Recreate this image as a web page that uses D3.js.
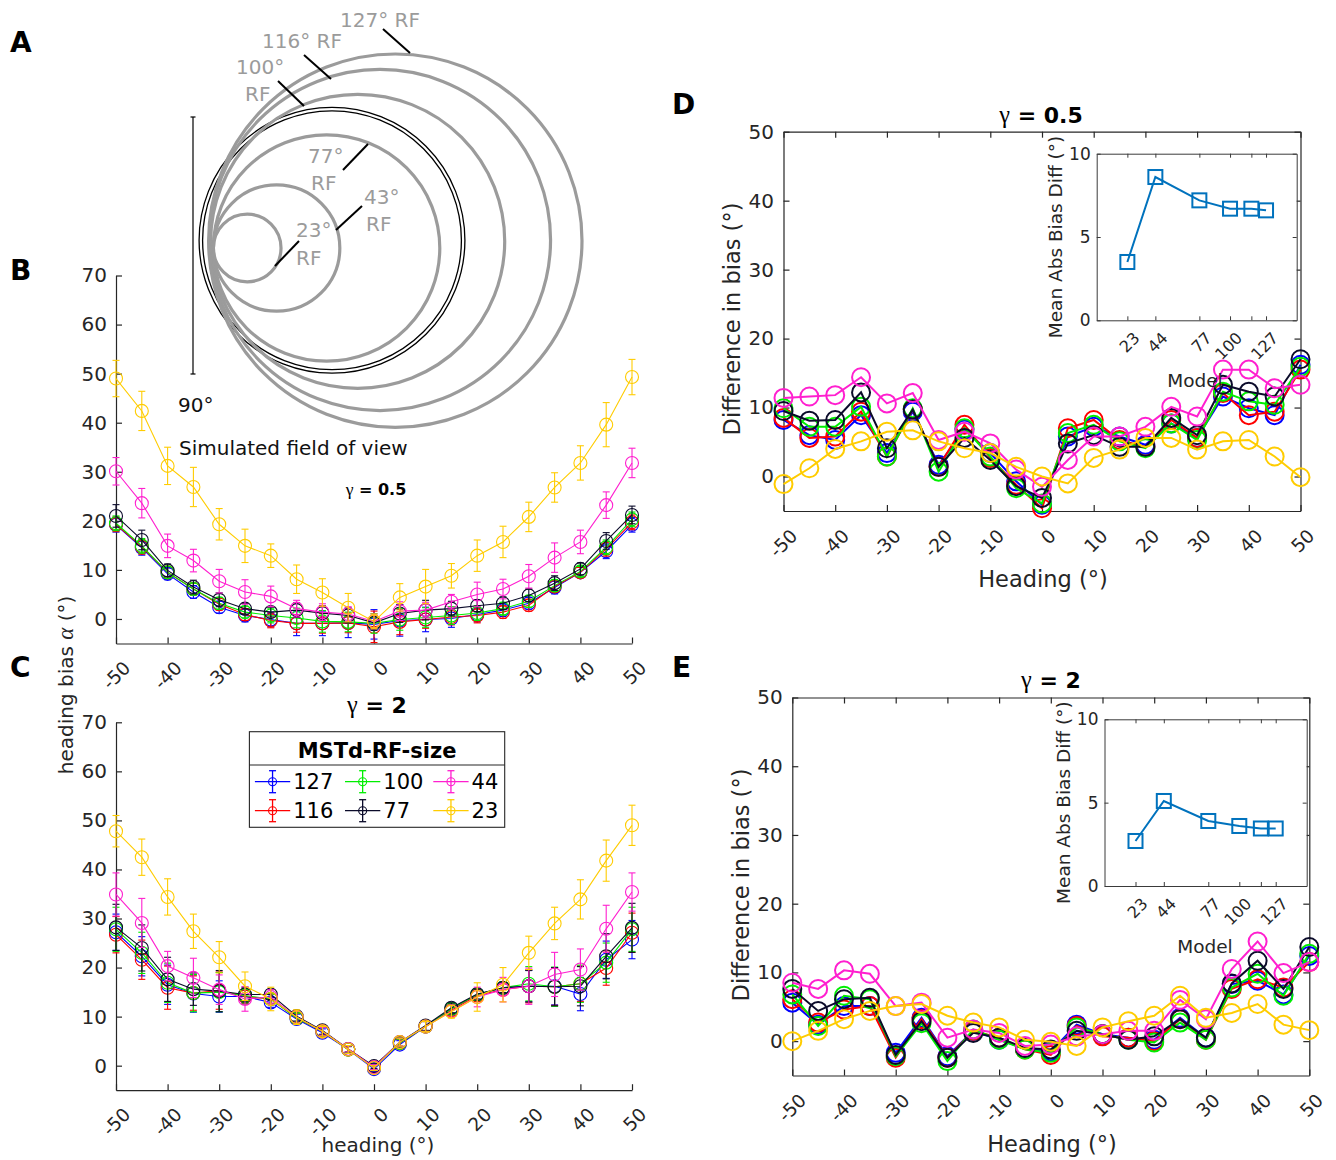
<!DOCTYPE html>
<html>
<head>
<meta charset="utf-8">
<script src="https://cdn.jsdelivr.net/npm/d3@7/dist/d3.min.js"></script>
<style>
body{margin:0;background:#fff;}
svg{display:block;}
text{font-family:"DejaVu Sans",sans-serif;}
</style>
</head>
<body>
<svg id="fig" width="1336" height="1160"></svg>
<script>
// ================= DATA =================
const headings = [-50,-45,-40,-35,-30,-25,-20,-15,-10,-5,0,5,10,15,20,25,30,35,40,45,50];
const headingTicks = [-50,-40,-30,-20,-10,0,10,20,30,40,50];
const biasTicks = [0,10,20,30,40,50,60,70];
const diffTicks = [0,10,20,30,40,50];
const modelSizes = [127,116,100,77,44,23];
const insetSizes = [23,44,77,100,116,127];
const insetXTicks = [23,44,77,100,116,127];
const insetXTickLabels = ["23","44","77","100","","127"];
const insetYTicks = [0,5,10];
const rfSizesA = [23,43,77,100,116,127];
const fovSizeA = 90;

// Panel B: heading bias, gamma = 0.5
const biasB_127 = [19.2,14.5,9.2,5.5,2.4,0.7,-0.1,-0.9,-0.9,-0.8,-1.1,-0.3,-0.1,0.1,0.9,1.8,3.2,6.4,9.5,13.8,19.2];
const biasB_116 = [19.3,14.7,9.5,6.1,3.0,0.9,-0.3,-0.9,-0.9,-0.8,-1.6,-0.6,-0.1,0.4,0.7,1.4,2.8,6.6,9.5,14.3,19.7];
const biasB_100 = [19.5,14.9,9.5,6.1,3.2,1.4,0.7,0.2,-0.5,-0.6,-0.9,-0.1,0.3,0.7,1.2,2.1,3.6,6.8,9.7,14.6,20.3];
const biasB_77  = [21.0,16.1,9.9,6.5,3.9,2.1,1.4,1.8,1.2,0.7,-0.8,1.1,1.8,2.1,2.7,3.2,4.8,7.3,10.2,15.9,21.2];
const biasB_44  = [30.1,23.6,14.9,11.9,7.7,5.5,4.6,2.1,1.4,1.0,-0.5,1.6,1.8,3.5,5.0,6.1,8.7,12.5,15.7,23.2,31.8];
const biasB_23  = [49.0,42.4,31.2,26.9,19.3,14.9,12.9,8.1,5.4,2.3,-0.5,4.4,6.6,8.8,12.9,15.7,20.8,26.8,31.8,39.6,49.3];
const errB_127 = [1.5,1.5,1.2,1.3,1.2,1.3,1.5,2.5,2.5,3.0,3.0,3.2,2.5,1.8,1.5,1.3,1.2,1.3,1.0,1.5,1.5];
const errB_116 = [1.5,1.5,1.2,1.2,1.2,1.2,1.5,1.8,2.0,2.0,3.2,2.6,1.8,1.6,1.5,1.3,1.2,1.2,1.0,1.5,1.5];
const errB_100 = [1.5,1.5,1.2,1.2,1.2,1.2,1.5,2.0,2.2,2.0,2.0,2.2,2.0,1.8,1.5,1.3,1.2,1.2,1.0,1.5,1.5];
const errB_77  = [2.3,2.0,1.3,1.4,1.4,1.1,1.0,1.5,1.5,1.5,1.5,1.8,2.0,1.5,1.2,1.3,1.3,1.5,1.2,1.7,1.8];
const errB_44  = [2.8,3.0,2.4,2.3,2.4,2.5,2.1,1.7,1.7,1.5,1.5,1.9,1.6,1.5,2.5,2.0,2.4,3.0,2.4,2.7,3.0];
const errB_23  = [3.7,4.0,3.8,4.0,3.2,3.4,2.4,2.9,2.8,2.9,1.5,2.8,3.5,2.5,3.2,3.2,3.0,3.0,3.5,4.5,3.6];

// Panel C: heading bias, gamma = 2
const biasC_127 = [27.2,22.3,16.5,14.7,14.1,14.1,12.9,9.5,6.7,3.3,-0.7,4.3,8.0,11.6,14.5,15.9,16.2,16.2,14.6,21.6,25.7];
const biasC_116 = [26.7,21.6,15.9,14.8,15.3,14.1,13.6,9.7,7.0,3.3,-0.3,4.6,8.0,11.3,14.3,15.5,16.2,16.1,16.7,19.9,27.1];
const biasC_100 = [27.8,23.0,16.9,14.8,15.0,14.3,13.6,9.7,7.0,3.3,-0.3,4.6,8.0,11.6,14.5,15.9,16.7,16.1,16.7,21.0,27.8];
const biasC_77  = [28.2,24.0,17.6,15.6,15.2,14.5,14.5,10.1,7.2,3.4,-0.1,4.8,8.2,11.8,14.6,15.9,16.2,16.1,16.2,22.3,28.1];
const biasC_44  = [34.9,29.1,20.3,17.9,15.5,13.6,14.0,9.9,7.0,3.4,-0.3,4.8,8.0,11.1,14.0,15.5,16.2,18.6,19.6,27.9,35.4];
const biasC_23  = [47.8,42.5,34.4,27.4,22.1,16.2,13.6,9.9,7.0,3.3,-0.5,4.8,8.0,11.0,14.0,16.5,23.0,29.0,33.9,41.8,49.0];
const errC_127 = [3.7,4.0,4.0,3.8,3.2,1.5,1.0,1.0,0.8,0.6,0.5,0.8,1.0,1.0,1.2,1.2,3.2,3.8,3.4,3.8,3.9];
const errC_116 = [3.7,4.0,4.4,3.5,3.8,1.5,1.0,1.0,0.8,0.6,0.5,0.8,1.0,1.0,1.2,1.2,3.4,3.8,3.6,3.5,4.0];
const errC_100 = [4.5,4.2,4.0,3.8,4.0,1.5,1.0,1.0,0.8,0.6,0.5,0.8,1.0,1.0,1.2,1.2,3.5,4.0,3.8,4.0,4.5];
const errC_77  = [4.7,4.7,4.5,3.3,4.2,1.5,1.0,1.0,0.8,0.6,0.5,0.8,1.0,1.0,1.0,1.0,3.2,3.9,4.0,4.6,5.0];
const errC_44  = [4.4,5.0,3.0,4.0,3.0,2.5,1.5,1.2,0.8,0.6,0.5,0.8,1.0,1.2,2.0,2.5,3.7,4.5,4.2,4.8,3.9];
const errC_23  = [3.2,3.7,3.7,3.5,3.2,2.9,2.4,1.5,1.0,0.8,0.5,0.8,1.0,1.3,2.9,3.5,3.4,3.3,4.0,4.2,4.1];

// Panel D: difference in bias, gamma = 0.5
const diffD_127 = [8.2,6.0,5.3,8.9,3.4,9.4,1.7,6.8,3.4,-0.7,-4.1,5.8,7.2,5.8,4.6,7.7,5.6,11.6,9.9,8.9,16.2];
const diffD_116 = [8.5,5.6,5.8,9.4,2.9,9.7,1.4,7.5,2.7,-1.2,-4.6,7.0,8.2,5.3,4.3,8.2,5.6,12.1,8.9,9.4,15.5];
const diffD_100 = [9.9,7.2,7.2,10.1,2.9,9.9,0.7,7.0,2.9,-1.7,-3.9,6.3,7.5,5.1,4.1,7.7,5.3,12.3,10.9,10.4,15.9];
const diffD_77  = [9.5,8.1,8.2,12.2,4.1,9.7,1.4,5.6,2.4,-1.4,-3.1,4.8,6.0,4.3,4.3,8.5,6.0,13.3,12.3,11.6,17.0];
const diffD_44  = [11.4,11.6,11.8,14.4,10.6,12.1,5.3,6.5,4.8,1.0,-1.5,2.4,5.8,5.8,7.2,10.1,8.7,15.5,15.5,12.8,13.3];
const diffD_23  = [-1.1,1.2,4.0,5.1,6.5,6.7,5.1,4.1,3.4,1.4,0.0,-1.0,2.7,3.9,5.6,5.6,3.9,5.1,5.3,2.9,-0.1];
const meanAbsD = [3.5,8.6,7.2,6.7,6.7,6.6];

// Panel E: difference in bias, gamma = 2
const diffE_127 = [5.6,2.4,5.1,5.1,-1.7,3.4,-2.2,1.5,0.2,-1.1,-1.5,2.4,1.0,0.5,0.2,3.4,0.5,8.3,8.8,6.8,12.4];
const diffE_116 = [6.1,2.7,4.6,5.1,-2.4,3.2,-2.4,1.5,0.5,-1.2,-2.0,2.2,0.7,0.5,0.0,3.2,0.2,7.6,9.0,7.8,11.5];
const diffE_100 = [6.8,2.2,6.6,6.1,-2.2,2.6,-2.9,1.7,0.2,-1.2,-1.7,2.0,1.0,0.2,-0.2,2.7,0.2,7.8,9.8,6.6,12.7];
const diffE_77  = [7.6,4.4,6.1,6.3,-2.0,2.9,-2.4,1.2,0.5,-1.0,-1.2,1.5,1.0,0.2,0.7,3.2,0.5,8.4,11.7,7.6,13.7];
const diffE_44  = [8.5,7.6,10.3,9.8,5.1,5.6,0.5,1.7,1.2,-0.7,-0.5,0.7,1.0,1.5,1.5,6.0,3.2,10.5,14.5,9.9,11.5];
const diffE_23  = [0.0,1.5,3.2,4.4,5.1,5.4,3.7,2.7,2.0,0.2,-0.1,-0.7,2.0,2.9,3.7,6.6,3.4,4.1,5.4,2.4,1.6];
const meanAbsE = [2.7,5.1,3.9,3.6,3.45,3.45];

// ================= STYLE / LAYOUT =================
const seriesColor = {127:"#0000ff",116:"#ff0000",100:"#00ee00",77:"#0b0b2a",44:"#ff1fcf",23:"#ffcc00"};
const AX = "#262626";
const GRAY = "#9b9b9b";
const svg = d3.select("#fig");
svg.append("rect").attr("width",1336).attr("height",1160).attr("fill","#fff");

function styleAxis(g, fs){
  g.attr("font-family", null).attr("font-size", null);
  g.select(".domain").attr("stroke", AX).attr("stroke-width", 1.2);
  g.selectAll(".tick line").attr("stroke", AX).attr("stroke-width", 1.2);
  g.selectAll(".tick text").attr("fill", AX).style("font-size", fs + "px").style("font-family","DejaVu Sans");
}
function rotateLabels(g, dx, dy){
  g.selectAll(".tick text").attr("x",0).attr("y",0).attr("dy","0.73em")
    .attr("text-anchor","end").attr("transform",`translate(${dx},${dy}) rotate(-45)`);
}
function fmt(d){ return String(d); }

function panelLabel(t, x, y){
  svg.append("text").attr("x",x).attr("y",y).text(t)
    .style("font-size","28px").style("font-weight","bold").attr("fill","#000");
}
function title(x, y, rest, fs){
  const t = svg.append("text").attr("x",x).attr("y",y).attr("text-anchor","middle")
    .style("font-size",fs+"px").style("font-weight","bold").attr("fill","#000");
  t.append("tspan").text("γ").style("font-family","Liberation Serif").style("font-weight","normal").style("font-size",(fs*1.1)+"px");
  t.append("tspan").text(rest);
}
function vLabel(x, y, fs, build){
  const t = svg.append("text").attr("transform",`translate(${x},${y}) rotate(-90)`)
    .attr("text-anchor","middle").style("font-size",fs+"px").attr("fill",AX);
  build(t);
  return t;
}

// ================= PANEL A =================
(function(){
  const rScale = d3.scaleLinear().domain([0,127]).range([0,186.7]);
  const layout = {23:{left:213.4,cy:248},43:{left:213.4,cy:248},77:{left:213.4,cy:248},
                  100:{left:210.7,cy:241.3},116:{left:209.5,cy:240},127:{left:208.6,cy:240.7}};
  const g = svg.append("g");
  // field of view double circle
  const fov = {cx:332, cy:240.3};
  [rScale(fovSizeA)+0.6, rScale(fovSizeA)-2.9].forEach(r=>{
    g.append("circle").attr("cx",fov.cx).attr("cy",fov.cy).attr("r",r)
      .attr("fill","none").attr("stroke","#000").attr("stroke-width",1.3);
  });
  g.selectAll("circle.rf").data(rfSizesA).join("circle").attr("class","rf")
    .attr("cx",d=>layout[d].left + rScale(d)).attr("cy",d=>layout[d].cy).attr("r",d=>rScale(d))
    .attr("fill","none").attr("stroke",GRAY).attr("stroke-width",3.2);
  // labels and leaders
  const lab = [
    {s:127, lines:[{t:"127° RF",x:340,y:27}], l:[383,29,410,53]},
    {s:116, lines:[{t:"116° RF",x:262,y:48}], l:[304,55,331,79]},
    {s:100, lines:[{t:"100°",x:236,y:74},{t:"RF",x:245,y:101}], l:[278,81,304,106]},
    {s:77, lines:[{t:"77°",x:308,y:163},{t:"RF",x:311,y:190}], l:[343,170,368,144]},
    {s:43, lines:[{t:"43°",x:364,y:204},{t:"RF",x:366,y:231}], l:[336,230,362,206]},
    {s:23, lines:[{t:"23°",x:296,y:237},{t:"RF",x:296,y:265}], l:[275,266,299,241]}
  ];
  lab.forEach(o=>{
    o.lines.forEach(L=>g.append("text").attr("x",L.x).attr("y",L.y).text(L.t)
      .style("font-size","20px").attr("fill",GRAY));
    g.append("line").attr("x1",o.l[0]).attr("y1",o.l[1]).attr("x2",o.l[2]).attr("y2",o.l[3])
      .attr("stroke","#000").attr("stroke-width",2);
  });
  // scale bar
  const bx = 193, by1 = 117, by2 = 374;
  g.append("line").attr("x1",bx).attr("x2",bx).attr("y1",by1).attr("y2",by2).attr("stroke","#000").attr("stroke-width",1.2);
  [by1,by2].forEach(y=>g.append("line").attr("x1",bx-2.5).attr("x2",bx+2.5).attr("y1",y).attr("y2",y).attr("stroke","#000").attr("stroke-width",1.2));
  g.append("text").attr("x",178).attr("y",412).text("90°").style("font-size","20px").attr("fill","#111");
  g.append("text").attr("x",179).attr("y",455).text("Simulated field of view").style("font-size","20px").attr("fill","#111");
})();

// ================= PANELS B & C =================
function biasPanel(yRange, vals, errs){
  const x = d3.scaleLinear().domain([-50,50]).range([116,632]);
  const y = d3.scaleLinear().domain([-5,70]).range(yRange);
  const gl = svg.append("g").attr("transform",`translate(${x.range()[0]},0)`)
    .call(d3.axisLeft(y).tickValues(biasTicks).tickSizeInner(-6).tickSizeOuter(0).tickPadding(9).tickFormat(fmt));
  styleAxis(gl, 20);
  const gb = svg.append("g").attr("transform",`translate(0,${y.range()[0]})`)
    .call(d3.axisBottom(x).tickValues(headingTicks).tickSizeInner(-6).tickSizeOuter(0).tickFormat(fmt));
  styleAxis(gb, 18.5);
  rotateLabels(gb, 5.5, 16);
  const line = d3.line().x((d,i)=>x(headings[i])).y(d=>y(d));
  modelSizes.forEach(m=>{
    const c = seriesColor[m], v = vals[m], e = errs[m];
    const g = svg.append("g");
    const pts = v.map((d,i)=>({h:headings[i], v:d, e:e[i]}));
    g.selectAll("line.eb").data(pts).join("line").attr("class","eb")
      .attr("x1",d=>x(d.h)).attr("x2",d=>x(d.h)).attr("y1",d=>y(d.v-d.e)).attr("y2",d=>y(d.v+d.e))
      .attr("stroke",c).attr("stroke-width",1.1);
    ["lo","hi"].forEach(k=>{
      g.selectAll("line.cap"+k).data(pts).join("line").attr("class","cap"+k)
        .attr("x1",d=>x(d.h)-3.5).attr("x2",d=>x(d.h)+3.5)
        .attr("y1",d=>y(k==="lo"?d.v-d.e:d.v+d.e)).attr("y2",d=>y(k==="lo"?d.v-d.e:d.v+d.e))
        .attr("stroke",c).attr("stroke-width",1.1);
    });
    g.append("path").attr("d",line(v)).attr("fill","none").attr("stroke",c).attr("stroke-width",1.1);
    g.selectAll("circle").data(pts).join("circle").attr("cx",d=>x(d.h)).attr("cy",d=>y(d.v)).attr("r",6.5)
      .attr("fill","none").attr("stroke",c).attr("stroke-width",1.1);
  });
  return {x,y};
}
biasPanel([643.5,275.5],
  {127:biasB_127,116:biasB_116,100:biasB_100,77:biasB_77,44:biasB_44,23:biasB_23},
  {127:errB_127,116:errB_116,100:errB_100,77:errB_77,44:errB_44,23:errB_23});
biasPanel([1090.2,722.3],
  {127:biasC_127,116:biasC_116,100:biasC_100,77:biasC_77,44:biasC_44,23:biasC_23},
  {127:errC_127,116:errC_116,100:errC_100,77:errC_77,44:errC_44,23:errC_23});

title(376, 495, " = 0.5", 16);
title(377, 713, " = 2", 22);
vLabel(73, 685, 20, t=>{
  t.append("tspan").text("heading bias ");
  t.append("tspan").text("α").style("font-family","Liberation Serif").style("font-style","italic").style("font-size","23px");
  t.append("tspan").text(" (°)");
});
svg.append("text").attr("x",378).attr("y",1152).attr("text-anchor","middle").text("heading (°)")
  .style("font-size","20px").attr("fill",AX);

// legend in C
(function(){
  const L = {x0:249.4, x1:504.7, y0:731.7, y1:827.3, div:765};
  const g = svg.append("g");
  g.append("rect").attr("x",L.x0).attr("y",L.y0).attr("width",L.x1-L.x0).attr("height",L.y1-L.y0)
    .attr("fill","#fff").attr("stroke",AX).attr("stroke-width",1.1);
  g.append("line").attr("x1",L.x0).attr("x2",L.x1).attr("y1",L.div).attr("y2",L.div).attr("stroke",AX).attr("stroke-width",1.1);
  g.append("text").attr("x",(L.x0+L.x1)/2).attr("y",757.5).attr("text-anchor","middle").text("MSTd-RF-size")
    .style("font-size","21px").style("font-weight","bold").attr("fill","#000");
  const colX = [254.9,345,433.3], rowY = [781.7,810.7], len = 35.3;
  modelSizes.forEach((m,i)=>{
    const cx = colX[Math.floor(i/2)], cy = rowY[i%2], c = seriesColor[m], mx = cx+len/2;
    g.append("line").attr("x1",cx).attr("x2",cx+len).attr("y1",cy).attr("y2",cy).attr("stroke",c).attr("stroke-width",1.3);
    g.append("line").attr("x1",mx).attr("x2",mx).attr("y1",cy-11).attr("y2",cy+11).attr("stroke",c).attr("stroke-width",1.3);
    [cy-11,cy+11].forEach(yy=>g.append("line").attr("x1",mx-3.5).attr("x2",mx+3.5).attr("y1",yy).attr("y2",yy).attr("stroke",c).attr("stroke-width",1.3));
    g.append("circle").attr("cx",mx).attr("cy",cy).attr("r",4).attr("fill","none").attr("stroke",c).attr("stroke-width",1.1);
    g.append("text").attr("x",cx+len+3).attr("y",cy).attr("dy","0.36em").text(m).style("font-size","21px").attr("fill","#000");
  });
})();

// ================= PANELS D & E =================
function diffPanel(xRange, yRange, vals){
  const x = d3.scaleLinear().domain([-50,50]).range(xRange);
  const y = d3.scaleLinear().domain([-5,50]).range(yRange);
  const [xl,xr] = xRange, [yb,yt] = yRange;
  const gl = svg.append("g").attr("transform",`translate(${xl},0)`)
    .call(d3.axisLeft(y).tickValues(diffTicks).tickSizeInner(-6).tickSizeOuter(0).tickPadding(9.5).tickFormat(fmt));
  styleAxis(gl, 20);
  const gr = svg.append("g").attr("transform",`translate(${xr},0)`)
    .call(d3.axisRight(y).tickValues(diffTicks).tickSizeInner(-6).tickSizeOuter(0).tickFormat(""));
  styleAxis(gr, 20);
  const gb = svg.append("g").attr("transform",`translate(0,${yb})`)
    .call(d3.axisBottom(x).tickValues(headingTicks).tickSizeInner(-6).tickSizeOuter(0).tickFormat(fmt));
  styleAxis(gb, 18.5);
  rotateLabels(gb, 5, 16.5);
  const gt = svg.append("g").attr("transform",`translate(0,${yt})`)
    .call(d3.axisTop(x).tickValues(headingTicks).tickSizeInner(-6).tickSizeOuter(0).tickFormat(""));
  styleAxis(gt, 20);
  const line = d3.line().x((d,i)=>x(headings[i])).y(d=>y(d));
  modelSizes.forEach(m=>{
    const c = seriesColor[m];
    const g = svg.append("g");
    g.append("path").attr("d",line(vals[m])).attr("fill","none").attr("stroke",c).attr("stroke-width",2);
    g.selectAll("circle").data(vals[m]).join("circle").attr("cx",(d,i)=>x(headings[i])).attr("cy",d=>y(d))
      .attr("r",9).attr("fill","none").attr("stroke",c).attr("stroke-width",2);
  });
}
function inset(xRange, yRange, vals, modelPos){
  const x = d3.scaleLinear().domain([0,150]).range(xRange);
  const y = d3.scaleLinear().domain([0,10]).range(yRange);
  const [xl,xr] = xRange, [yb,yt] = yRange;
  const IC = "#3a3a3a";
  svg.append("rect").attr("x",xl).attr("y",yt).attr("width",xr-xl).attr("height",yb-yt).attr("fill","#fff");
  const st = (g,fs)=>{ styleAxis(g,fs); g.select(".domain").attr("stroke",IC).attr("stroke-width",1); g.selectAll(".tick line").attr("stroke",IC).attr("stroke-width",1); };
  const gl = svg.append("g").attr("transform",`translate(${xl},0)`)
    .call(d3.axisLeft(y).tickValues(insetYTicks).tickSizeInner(-4).tickSizeOuter(0).tickPadding(6).tickFormat(fmt));
  st(gl, 17);
  const gr = svg.append("g").attr("transform",`translate(${xr},0)`)
    .call(d3.axisRight(y).tickValues(insetYTicks).tickSizeInner(-4).tickSizeOuter(0).tickFormat(""));
  st(gr, 17);
  const gb = svg.append("g").attr("transform",`translate(0,${yb})`)
    .call(d3.axisBottom(x).tickValues(insetXTicks).tickSizeInner(-4).tickSizeOuter(0).tickFormat((d,i)=>insetXTickLabels[i]));
  st(gb, 16);
  rotateLabels(gb, 4.5, 10.5);
  const gt = svg.append("g").attr("transform",`translate(0,${yt})`)
    .call(d3.axisTop(x).tickValues(insetXTicks).tickSizeInner(-4).tickSizeOuter(0).tickFormat(""));
  st(gt, 16);
  const line = d3.line().x((d,i)=>x(insetSizes[i])).y(d=>y(d));
  svg.append("path").attr("d",line(vals)).attr("fill","none").attr("stroke","#0072bd").attr("stroke-width",2);
  svg.selectAll(null).data(vals).join("rect")
    .attr("x",(d,i)=>x(insetSizes[i])-7).attr("y",d=>y(d)-7).attr("width",14).attr("height",14)
    .attr("fill","none").attr("stroke","#0072bd").attr("stroke-width",2);
  svg.append("text").attr("x",modelPos[0]).attr("y",modelPos[1]).attr("text-anchor","middle").text("Model")
    .style("font-size","18.5px").attr("fill",AX);
  vLabel(xl-34.5, (yt+yb)/2, 18.5, t=>t.text("Mean Abs Bias Diff (°)"));
}

diffPanel([783.5,1300.5],[511,131.7],
  {127:diffD_127,116:diffD_116,100:diffD_100,77:diffD_77,44:diffD_44,23:diffD_23});
inset([1096.7,1296.7],[320.3,153.7], meanAbsD, [1195,387]);
diffPanel([792.3,1309.3],[1075.5,697.5],
  {127:diffE_127,116:diffE_116,100:diffE_100,77:diffE_77,44:diffE_44,23:diffE_23});
inset([1104.5,1306.7],[886,719.3], meanAbsE, [1205,953]);

title(1041, 123, " = 0.5", 22);
title(1051, 688, " = 2", 22);
vLabel(740, 319, 22.5, t=>t.text("Difference in bias (°)"));
vLabel(749, 885, 22.5, t=>t.text("Difference in bias (°)"));
svg.append("text").attr("x",1043).attr("y",587).attr("text-anchor","middle").text("Heading (°)").style("font-size","22.5px").attr("fill",AX);
svg.append("text").attr("x",1052).attr("y",1151.5).attr("text-anchor","middle").text("Heading (°)").style("font-size","22.5px").attr("fill",AX);

panelLabel("A", 10, 52);
panelLabel("B", 10, 280);
panelLabel("C", 10, 677);
panelLabel("D", 672, 114);
panelLabel("E", 672, 677);
</script>
</body>
</html>
